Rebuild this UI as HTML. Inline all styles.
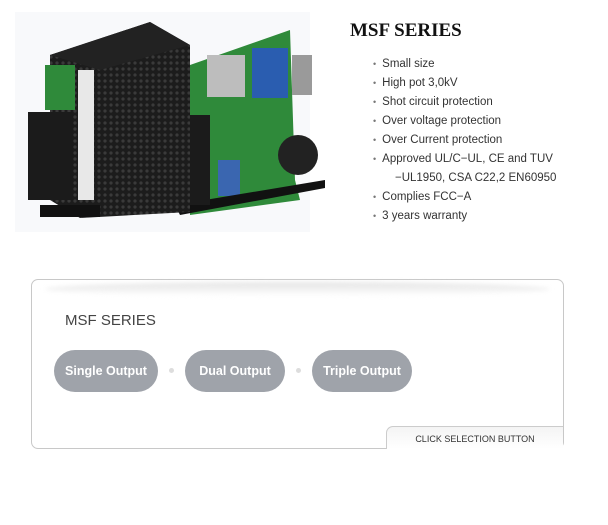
<!DOCTYPE html>
<html><head><style>
body{margin:0;width:608px;height:525px;background:#fff;position:relative;font-family:"Liberation Sans",sans-serif;overflow:hidden}
.t{position:absolute;left:350px;top:20px;font-family:"Liberation Serif",serif;font-weight:bold;font-size:19px;color:#111}
ul{position:absolute;left:373px;top:55px;margin:0;padding:0;list-style:none;font-size:11.5px;color:#333;line-height:19px}
ul li:before{content:"•";color:#777;margin-right:6px;font-size:9px}
ul li.n:before{content:"";margin:0}
.box{position:absolute;left:31px;top:279px;width:531px;height:168px;border:1px solid #c8c8c8;border-radius:7px;background:#fff}
.sh{position:absolute;left:45px;top:282px;width:505px;height:14px;background:linear-gradient(#e4e4e4,#fff);border-radius:50%;filter:blur(2px)}
.h{position:absolute;left:65px;top:312px;font-size:15px;color:#444}
.b{position:absolute;top:350px;height:42px;border-radius:21px;background:#9fa3aa;color:#fff;font-weight:bold;font-size:12.5px;line-height:42px;text-align:center}
.d{position:absolute;top:368px;width:5px;height:5px;border-radius:50%;background:#ddd}
.tab{position:absolute;left:386px;top:426px;width:176px;height:22px;border:1px solid #ccc;border-right:none;border-bottom:none;border-top-left-radius:7px;background:linear-gradient(#f4f4f4,#fff);font-size:9px;color:#333;text-align:center;line-height:24px}
</style></head><body>
<svg style="position:absolute;left:0;top:0" width="330" height="250">
<defs><pattern id="p" width="6" height="6" patternUnits="userSpaceOnUse"><rect width="6" height="6" fill="#1c1c1c"/><circle cx="3" cy="3" r="1.6" fill="#3a3a3a"/></pattern></defs>
<rect x="15" y="12" width="295" height="220" fill="#f8f9fb"/>
<polygon points="190,65 290,30 295,180 300,200 190,215" fill="#2f8a3a"/>
<rect x="207" y="55" width="38" height="42" fill="#bdbdbd"/>
<rect x="252" y="48" width="36" height="50" fill="#2a5db0"/>
<rect x="292" y="55" width="20" height="40" fill="#9a9a9a"/>
<circle cx="298" cy="155" r="20" fill="#222"/>
<rect x="218" y="160" width="22" height="36" fill="#3a66b0"/>
<polygon points="175,205 325,180 325,188 180,215" fill="#111"/>
<rect x="172" y="115" width="38" height="90" fill="#1b1b1b"/>
<polygon points="50,55 150,22 190,45 190,212 80,218 50,200" fill="url(#p)"/>
<polygon points="50,55 150,22 190,45 100,70" fill="#222"/>
<rect x="78" y="70" width="16" height="130" fill="#e8e8e8"/>
<rect x="45" y="65" width="30" height="45" fill="#2f8a3a"/>
<rect x="28" y="112" width="45" height="88" fill="#1b1b1b"/>
<rect x="40" y="205" width="60" height="12" fill="#111"/>
</svg>
<div class="t">MSF SERIES</div>
<ul><li>Small size</li><li>High pot 3,0kV</li><li>Shot circuit protection</li><li>Over voltage protection</li><li>Over Current protection</li><li>Approved UL/C−UL, CE and TUV</li><li class="n" style="padding-left:22px">−UL1950, CSA C22,2 EN60950</li><li>Complies FCC−A</li><li>3 years warranty</li></ul>
<div class="box"></div><div class="sh"></div>
<div class="h">MSF SERIES</div>
<div class="b" style="left:54px;width:104px">Single Output</div>
<div class="d" style="left:169px"></div>
<div class="b" style="left:185px;width:100px">Dual Output</div>
<div class="d" style="left:296px"></div>
<div class="b" style="left:312px;width:100px">Triple Output</div>
<div class="tab">CLICK SELECTION BUTTON</div>
</body></html>
